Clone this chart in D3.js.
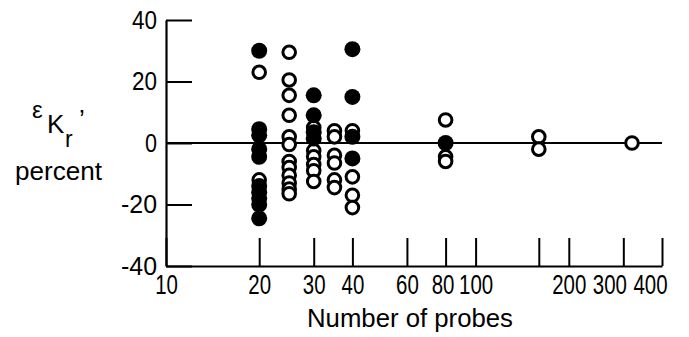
<!DOCTYPE html>
<html>
<head>
<meta charset="utf-8">
<script src="https://cdn.jsdelivr.net/npm/d3@7"></script>
<style>
  body { margin: 0; background: #fff; }
  svg { display: block; }
  .tick-label, .title { font-family: "Liberation Sans", Arial, sans-serif; }
</style>
</head>
<body>
<div id="chart"></div>
<script>
// number of probes for each column of points
const probeCounts = [20, 25, 30, 35, 40, 80, 160, 320];
// error values, percent (open symbols), one list per column
const openErrors = [
  [23, -12],
  [29.5, 20.5, 15.5, 9, 2, -0.5, -6, -8, -10.5, -13, -15, -16.5],
  [5, -2.5, -4.5, -7, -9, -12.5],
  [4, 2, -4, -6.5, -12, -14.5],
  [4, -11, -17, -21],
  [7.5, -4.5, -6],
  [2, -2],
  [0],
];
// error values, percent (filled symbols)
const filledErrors = [
  [30, 4.5, 2.5, -2, -4.5, -14, -16, -18, -20, -24.5],
  [],
  [15.5, 9, 3.5, 1.5],
  [],
  [30.5, 15, 2, -5],
  [0],
  [],
  [],
];
const xTicks = [10, 20, 30, 40, 60, 80, 100, 160, 200, 300, 400];
const xTickLabels = ["10", "20", "30", "40", "60", "80", "100", "", "200", "300", "400"];
const yTicks = [-40, -20, 0, 20, 40];

const svgWidth = 689;
const svgHeight = 337;

const svg = d3
  .select("#chart")
  .append("svg")
  .attr("width", svgWidth)
  .attr("height", svgHeight);

const xScale = d3.scaleLog().domain([10, 400]).range([166, 662]);
const yScale = d3.scaleLinear().domain([-40, 40]).range([266, 20]);

// y axis, ticks pointing into the plot
const yAxis = svg
  .append("g")
  .attr("transform", `translate(${xScale(10)},0)`)
  .call(
    d3
      .axisLeft(yScale)
      .tickValues(yTicks)
      .tickSize(-26)
      .tickSizeOuter(0)
      .tickPadding(9)
      .tickFormat((d) => String(d))
  );

// x axis, ticks pointing up
const xAxis = svg
  .append("g")
  .attr("transform", `translate(0,${yScale(-40)})`)
  .call(
    d3
      .axisBottom(xScale)
      .tickValues(xTicks)
      .tickSize(-28)
      .tickSizeOuter(0)
      .tickPadding(8)
      .tickFormat((d, i) => xTickLabels[i])
  );

[yAxis, xAxis].forEach((ax) => {
  ax.select(".domain").attr("stroke", "#000").attr("stroke-width", 2.2);
  ax.selectAll(".tick line").attr("stroke", "#000").attr("stroke-width", 2);
});

// condensed lettering, as in the original
yAxis
  .selectAll(".tick text")
  .attr("class", "tick-label")
  .attr("fill", "#000")
  .style("font-size", "25px")
  .attr("lengthAdjust", "spacingAndGlyphs")
  .attr("textLength", (d) => (d < 0 ? 36 : d === 0 ? 12 : 25));

// crowded labels at the right end sit a little left of their ticks
const xLabelShift = { 80: -3, 300: -14, 400: -12 };
const xSqueeze = 0.73;
xAxis
  .selectAll(".tick text")
  .attr("class", "tick-label")
  .attr("fill", "#000")
  .style("font-size", "28px")
  .attr("transform", `scale(${xSqueeze},1)`)
  .attr("dx", (d) => (xLabelShift[d] || 0) / xSqueeze);

// zero line
svg
  .append("line")
  .attr("x1", xScale(10))
  .attr("x2", xScale(400))
  .attr("y1", yScale(0))
  .attr("y2", yScale(0))
  .attr("stroke", "#000")
  .attr("stroke-width", 2.2);

const flat = (lists) =>
  lists.flatMap((vals, i) => vals.map((v) => ({ n: probeCounts[i], e: v })));

// open symbols first, filled drawn over them
svg
  .selectAll(".dot-open")
  .data(flat(openErrors))
  .enter()
  .append("circle")
  .attr("class", "dot-open")
  .attr("cx", (d) => xScale(d.n))
  .attr("cy", (d) => yScale(d.e))
  .attr("r", 6.3)
  .attr("fill", "#fff")
  .attr("stroke", "#000")
  .attr("stroke-width", 3);

svg
  .selectAll(".dot-filled")
  .data(flat(filledErrors))
  .enter()
  .append("circle")
  .attr("class", "dot-filled")
  .attr("cx", (d) => xScale(d.n))
  .attr("cy", (d) => yScale(d.e))
  .attr("r", 8)
  .attr("fill", "#000");

// axis titles
svg
  .append("text")
  .attr("class", "title")
  .attr("x", (xScale(10) + xScale(400)) / 2 - 4)
  .attr("y", 327)
  .attr("text-anchor", "middle")
  .style("font-size", "25px")
  .attr("lengthAdjust", "spacingAndGlyphs")
  .attr("textLength", 206)
  .text("Number of probes");

const yTitle = svg.append("g").attr("class", "title");
yTitle.append("text").attr("x", 32).attr("y", 118).style("font-size", "24px").text("ε");
yTitle.append("text").attr("x", 47).attr("y", 133).style("font-size", "26px").text("K");
yTitle.append("text").attr("x", 65).attr("y", 147).style("font-size", "23px").text("r");
yTitle.append("text").attr("x", 79).attr("y", 128).style("font-size", "26px").text("’");
yTitle
  .append("text")
  .attr("x", 15)
  .attr("y", 180)
  .style("font-size", "25px")
  .attr("lengthAdjust", "spacingAndGlyphs")
  .attr("textLength", 87)
  .text("percent");
</script>
</body>
</html>
